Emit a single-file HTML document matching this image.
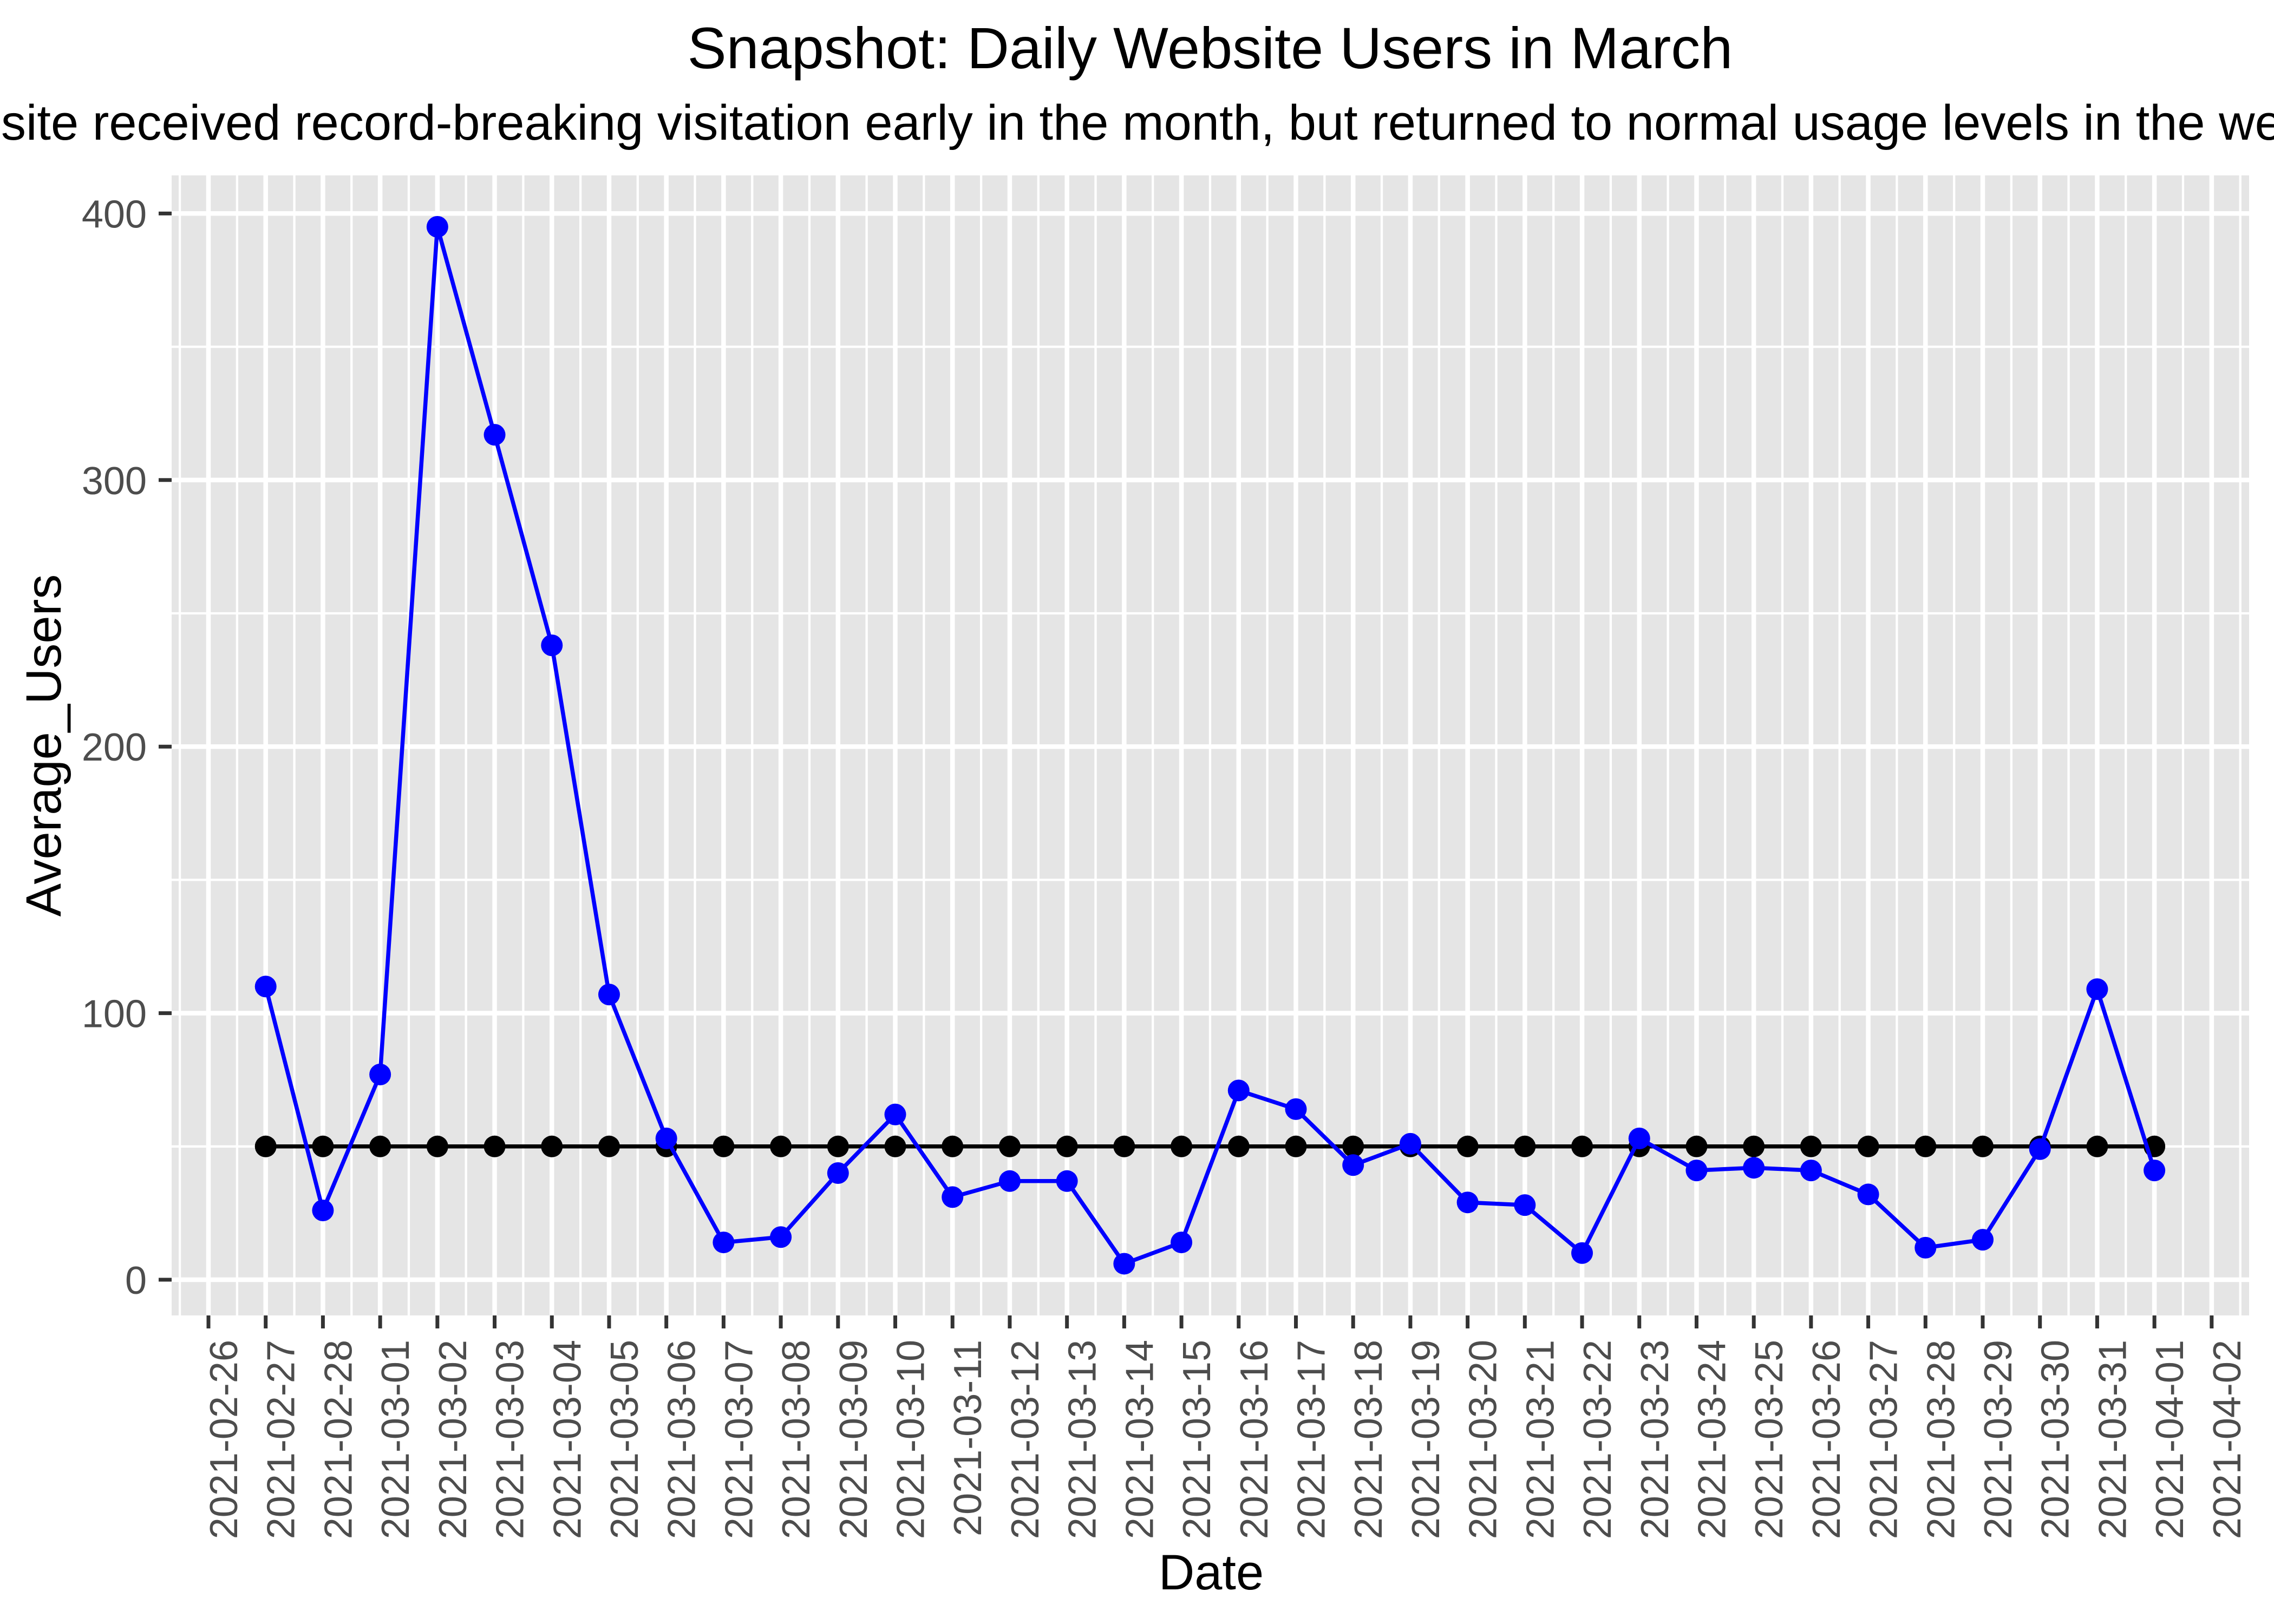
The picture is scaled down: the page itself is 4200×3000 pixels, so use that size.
<!DOCTYPE html>
<html><head><meta charset="utf-8">
<style>
html,body{margin:0;padding:0;background:#fff;}
svg{display:block;font-family:"Liberation Sans",Arial,sans-serif;}
</style></head>
<body>
<svg id="chart" width="4200" height="3000" viewBox="0 0 4200 3000" xmlns="http://www.w3.org/2000/svg">
<rect x="0" y="0" width="4200" height="3000" fill="#fff"/>
<text id="title" x="2235" y="126" font-size="108" text-anchor="middle" fill="#000">Snapshot: Daily Website Users in March</text>
<text id="subtitle" x="2235" y="258" font-size="92" fill="#000">The website received record-breaking visitation early in the month, but returned to normal usage levels in the weeks following.</text>
<g id="panel"></g>
<g id="axes"></g>
<g id="series"></g>
<text x="2237" y="2936" font-size="92" text-anchor="middle" fill="#000">Date</text>
<text transform="translate(112,1377) rotate(-90)" font-size="92" text-anchor="middle" fill="#000">Average_Users</text>
</svg>
<script>
const dateLabels = ["2021-02-26","2021-02-27","2021-02-28","2021-03-01","2021-03-02","2021-03-03","2021-03-04","2021-03-05","2021-03-06","2021-03-07","2021-03-08","2021-03-09","2021-03-10","2021-03-11","2021-03-12","2021-03-13","2021-03-14","2021-03-15","2021-03-16","2021-03-17","2021-03-18","2021-03-19","2021-03-20","2021-03-21","2021-03-22","2021-03-23","2021-03-24","2021-03-25","2021-03-26","2021-03-27","2021-03-28","2021-03-29","2021-03-30","2021-03-31","2021-04-01","2021-04-02"];
const seriesDates = ["2021-02-27","2021-02-28","2021-03-01","2021-03-02","2021-03-03","2021-03-04","2021-03-05","2021-03-06","2021-03-07","2021-03-08","2021-03-09","2021-03-10","2021-03-11","2021-03-12","2021-03-13","2021-03-14","2021-03-15","2021-03-16","2021-03-17","2021-03-18","2021-03-19","2021-03-20","2021-03-21","2021-03-22","2021-03-23","2021-03-24","2021-03-25","2021-03-26","2021-03-27","2021-03-28","2021-03-29","2021-03-30","2021-03-31","2021-04-01"];
const users = [110,26,77,395,317,238,107,53,14,16,40,62,31,37,37,6,14,71,64,43,51,29,28,10,53,41,42,41,32,12,15,49,109,41];
const baseline = [50,50,50,50,50,50,50,50,50,50,50,50,50,50,50,50,50,50,50,50,50,50,50,50,50,50,50,50,50,50,50,50,50,50];
const yTicks = [0,100,200,300,400];

const NS = "http://www.w3.org/2000/svg";
const PL = 317, PR = 4154, PT = 324, PB = 2430;
const X0 = 385, DAY = 105.71;
const Y0 = 2364, PER = 4.924;
const t0 = Date.UTC(2021,1,26);
function dayIndex(s){const p=s.split("-");return (Date.UTC(+p[0],+p[1]-1,+p[2])-t0)/86400000;}
function xs(s){return X0 + dayIndex(s)*DAY;}
function xd(d){return X0 + d*DAY;}
function ys(v){return Y0 - v*PER;}
function mk(tag, attrs, parent){const e=document.createElementNS(NS,tag);for(const k in attrs)e.setAttribute(k,attrs[k]);parent.appendChild(e);return e;}

const panel = document.getElementById("panel");
const bg = mk("rect",{x:PL,y:PT,width:PR-PL,height:PB-PT,fill:"#E5E5E5"},panel);


for (let i=0;i<yTicks.length+1;i++){
  const v = (i-1)*100+50;
  const y = ys(v);
  if (y<PT||y>PB) continue;
  const l = mk("line",{x1:PL,x2:PR,y1:y,y2:y,stroke:"#fff","stroke-width":4.3},panel);
  
  
}
for (let d=-1; d<dateLabels.length; d++){
  const x = xd(d+0.5);
  if (x<PL||x>PR) continue;
  const l = mk("line",{x1:x,x2:x,y1:PT,y2:PB,stroke:"#fff","stroke-width":4.3},panel);
  
  
}
const axes = document.getElementById("axes");
yTicks.forEach(v=>{
  const y = ys(v);
  const l = mk("line",{x1:PL,x2:PR,y1:y,y2:y,stroke:"#fff","stroke-width":8.5},panel);
  
  
  const t = mk("line",{x1:293,x2:PL,y1:y,y2:y,stroke:"#333","stroke-width":7},axes);
  
  
  const tx = mk("text",{x:271,y:y+26,"font-size":72,"text-anchor":"end",fill:"#4D4D4D"},axes);
  
  
  tx.textContent = String(v);
});
dateLabels.forEach(s=>{
  const x = xs(s);
  const l = mk("line",{x1:x,x2:x,y1:PT,y2:PB,stroke:"#fff","stroke-width":8.5},panel);
  
  
  const t = mk("line",{x1:x,x2:x,y1:PB,y2:PB+24,stroke:"#333","stroke-width":7},axes);
  
  
  const tx = mk("text",{transform:"translate("+(x+53)+",2475) rotate(-90)","font-size":72,"text-anchor":"end",fill:"#4D4D4D"},axes);
  
  
  tx.textContent = s;
});
const series = document.getElementById("series");
function drawSeries(vals, color, name){
  const pts = seriesDates.map((s,i)=>xs(s).toFixed(1)+","+ys(vals[i]).toFixed(1)).join(" ");
  const pl = mk("polyline",{points:pts,fill:"none",stroke:color,"stroke-width":7.5,"stroke-linejoin":"round"},series);
  
  
  seriesDates.forEach((s,i)=>{
    const c = mk("circle",{cx:xs(s),cy:ys(vals[i]),r:20,fill:color},series);
    
    
  });
}
drawSeries(baseline,"#000000","baseline");
drawSeries(users,"#0000FF","users");
const sub = document.getElementById("subtitle");
const probe = mk("text",{x:0,y:-100,"font-size":92},document.getElementById("chart"));
probe.textContent = "The web";
const w = probe.getComputedTextLength();
probe.remove();
sub.setAttribute("x", -w + 2);
</script>
</body></html>
